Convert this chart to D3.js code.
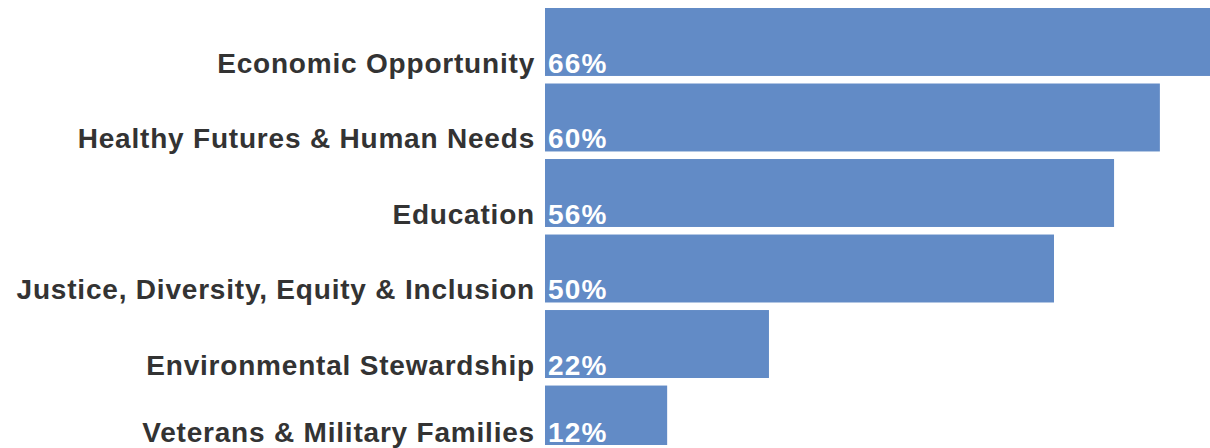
<!DOCTYPE html>
<html>
<head>
<meta charset="utf-8">
<script src="https://cdn.jsdelivr.net/npm/d3@7"></script>
<style>
  body { margin: 0; background: #fff; }
  svg { display: block; }
  .cat-label { font-family: "Liberation Sans", Arial, Helvetica, sans-serif; font-weight: bold; fill: #333; letter-spacing: 0.8px; }
  .pct-label { font-family: "Liberation Sans", Arial, Helvetica, sans-serif; font-weight: bold; fill: #fff; letter-spacing: 1.2px; }
</style>
</head>
<body>
<div id="chart"></div>
<script>
// categories and shares
const categories = [
    "Economic Opportunity",
    "Healthy Futures & Human Needs",
    "Education",
    "Justice, Diversity, Equity & Inclusion",
    "Environmental Stewardship",
    "Veterans & Military Families"
];
const values = [66, 60.4, 55.9, 50, 22, 12];

const width = 1210, height = 448;
const plotLeft = 545, plotBottom = 445;

let svg = d3.select("#chart")
    .append("svg")
    .attr("width", width)
    .attr("height", height);

// bars run off the right edge / bottom of the view, so clip them
svg.append("clipPath")
    .attr("id", "plot-clip")
    .append("rect")
    .attr("x", 0).attr("y", 0)
    .attr("width", width).attr("height", plotBottom);

let x = d3.scaleLinear()
    .domain([0, 100])
    .range([plotLeft, plotLeft + 1018]);

let y = d3.scaleBand()
    .domain(categories)
    .range([8, 453.5])
    .paddingInner(0.1)
    .paddingOuter(0);

let rows = categories.map((c, i) => ({ name: c, value: values[i] }));

// bar height, cut at the bottom of the view
const barH = d => Math.min(y.bandwidth(), plotBottom - y(d.name));

svg.append("g")
    .attr("clip-path", "url(#plot-clip)")
    .selectAll("rect")
    .data(rows)
    .join("rect")
    .attr("x", x(0))
    .attr("y", d => y(d.name))
    .attr("width", d => x(d.value) - x(0))
    .attr("height", barH)
    .attr("fill", "#628bc6");

svg.append("g")
    .selectAll("text")
    .data(rows)
    .join("text")
    .attr("class", "cat-label")
    .attr("x", x(0) - 10)
    .attr("y", d => y(d.name) + barH(d) - 3)
    .attr("text-anchor", "end")
    .attr("font-size", 28)
    .text(d => d.name);

svg.append("g")
    .selectAll("text")
    .data(rows)
    .join("text")
    .attr("class", "pct-label")
    .attr("x", x(0) + 3)
    .attr("y", d => y(d.name) + barH(d) - 3)
    .attr("font-size", 28)
    .text(d => Math.round(d.value) + "%");
</script>
</body>
</html>
